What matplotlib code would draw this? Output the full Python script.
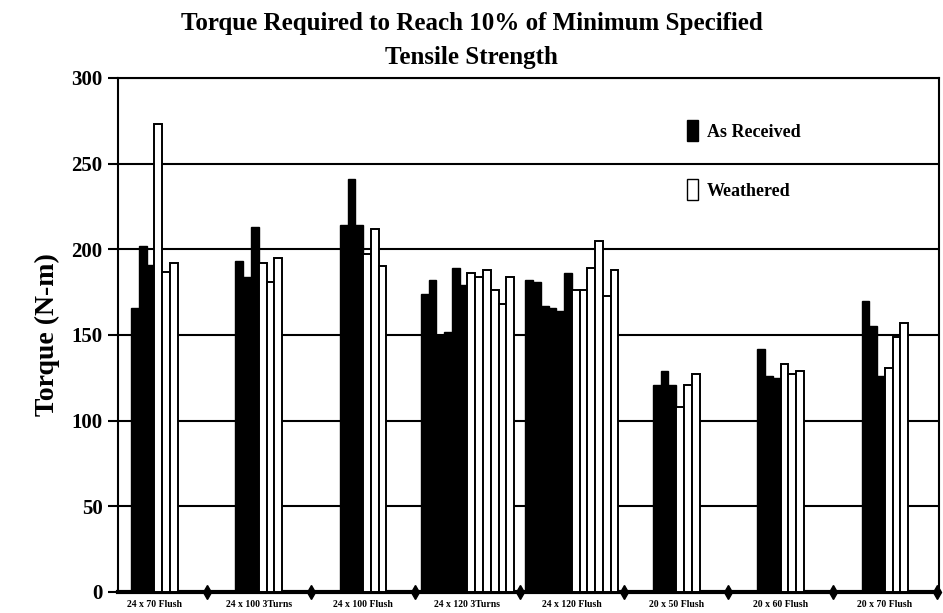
import matplotlib.pyplot as plt
import numpy as np
from matplotlib.patches import Patch

plt.rcParams['font.family'] = ['Liberation Serif', 'DejaVu Serif']
plt.rcParams['font.weight'] = 'bold'

# bolt sizes / installation type
categories = ['24 x 70 Flush', '24 x 100 3Turns', '24 x 100 Flush', '24 x 120 3Turns',
              '24 x 120 Flush', '20 x 50 Flush', '20 x 60 Flush', '20 x 70 Flush']

# torque readings (N-m), one list per specimen group
as_received = [
    [166, 202, 191],
    [193, 184, 213],
    [214, 241, 214],
    [174, 182, 150, 152, 189, 179],
    [182, 181, 167, 166, 164, 186],
    [121, 129, 121],
    [142, 126, 125],
    [170, 155, 126],
]
weathered = [
    [273, 187, 192],
    [192, 181, 195],
    [197, 212, 190],
    [186, 184, 188, 176, 168, 184],
    [176, 176, 189, 205, 173, 188],
    [108, 121, 127],
    [133, 127, 129],
    [131, 149, 157],
]

fig = plt.figure(figsize=(9.43, 6.13), dpi=100)
ax = fig.add_axes([0.125, 0.0343, 0.871, 0.8385])

w = 0.0744  # width of a single bar
for i in range(len(categories)):
    vals = as_received[i] + weathered[i]
    n = len(vals)
    xs = i + (np.arange(n) - (n - 1) / 2) * w
    nb = len(as_received[i])
    ax.bar(xs[:nb], as_received[i], width=w, color='black', edgecolor='black',
           linewidth=1.0, zorder=3)
    ax.bar(xs[nb:], weathered[i], width=w, color='white', edgecolor='black',
           linewidth=1.4, zorder=3)

ax.set_xlim(-0.35, 7.52)
ax.set_ylim(0, 300)
ax.set_yticks([0, 50, 100, 150, 200, 250, 300])
ax.yaxis.grid(True, color='black', linewidth=1.5, zorder=0)
ax.set_axisbelow(True)

ax.set_xticks(range(len(categories)))
ax.set_xticklabels(categories, fontsize=7, fontweight='bold')
ax.tick_params(axis='x', length=0, pad=6)
ax.tick_params(axis='y', length=7, width=1.5, labelsize=15, pad=4)
for lab in ax.get_yticklabels():
    lab.set_fontweight('bold')

for s in ['left', 'top', 'right']:
    ax.spines[s].set_linewidth(1.5)
ax.spines['bottom'].set_linewidth(3)

# diamonds between the groups on the base line
bx = np.arange(len(categories)) + 0.5
ax.plot(bx, np.zeros_like(bx), linestyle='none', marker='d', markersize=7,
        color='black', clip_on=False, zorder=5)

ax.set_ylabel('Torque (N-m)', fontsize=20, fontweight='bold', labelpad=8)

fig.text(0.5, 0.98, 'Torque Required to Reach 10% of Minimum Specified\nTensile Strength',
         ha='center', va='top', fontsize=18, fontweight='bold', linespacing=1.6)

handles = [Patch(facecolor='black', edgecolor='black', label='As Received'),
           Patch(facecolor='white', edgecolor='black', label='Weathered')]
leg = ax.legend(handles=handles, loc='upper left', bbox_to_anchor=(0.682, 0.935),
                frameon=False, fontsize=13, handlelength=0.6, handleheight=1.4,
                handletextpad=0.5, labelspacing=2.1, borderpad=0)
for t in leg.get_texts():
    t.set_fontweight('bold')

fig.savefig('out.png', dpi=100)
